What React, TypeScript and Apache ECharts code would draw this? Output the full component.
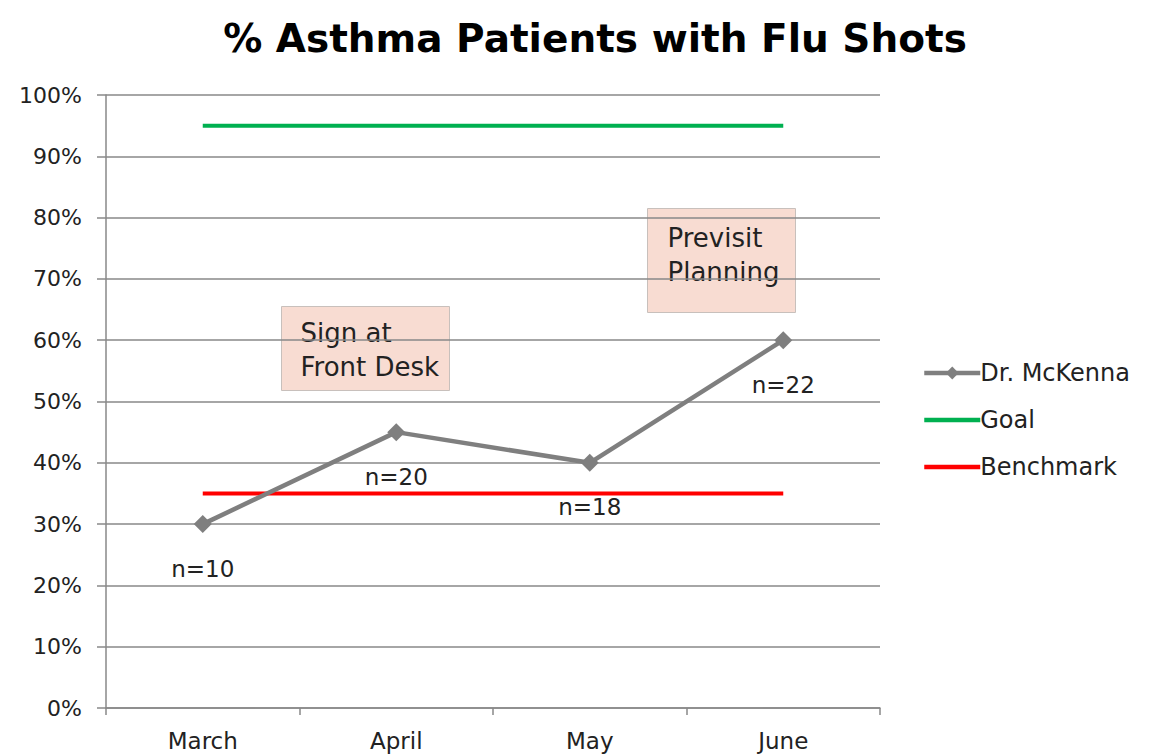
import React, { useEffect, useRef } from "react";
import * as echarts from "echarts";

const categories = ["March", "April", "May", "June"];
const mckenna = [30, 45, 40, 60];
const goal = [95, 95, 95, 95];
const benchmark = [35, 35, 35, 35];
const nLabels = ["n=10", "n=20", "n=18", "n=22"];
const yTicks = [0, 10, 20, 30, 40, 50, 60, 70, 80, 90, 100];

const FONT = "'DejaVu Sans', sans-serif";

export default function App() {
  const ref = useRef<HTMLDivElement>(null);
  useEffect(() => {
    const chart = echarts.init(ref.current!, null, { renderer: "svg" });
    chart.setOption({
      animation: false,
      backgroundColor: "#ffffff",
      title: {
        text: "% Asthma Patients with Flu Shots",
        left: 590,
        textAlign: "center",
        top: 14,
        textStyle: { fontFamily: FONT, fontWeight: "bold", fontSize: 39, color: "#000" },
      },
      grid: { left: 106, right: 273, top: 95, bottom: 48, containLabel: false },
      legend: {
        orient: "vertical",
        left: 922,
        top: 361,
        padding: 0,
        itemWidth: 56,
        itemHeight: 16,
        itemGap: 23,
        lineStyle: { width: 4.5 },
        textStyle: { fontFamily: FONT, fontSize: 24, color: "#222", padding: [0, 0, 0, -5] },
        data: [
          { name: "Dr. McKenna" },
          { name: "Goal", itemStyle: { opacity: 0 } },
          { name: "Benchmark", itemStyle: { opacity: 0 } },
        ],
      },
      xAxis: {
        type: "category",
        data: categories,
        boundaryGap: true,
        axisLine: { lineStyle: { color: "#888", width: 1.5 } },
        axisTick: { show: true, length: 7, lineStyle: { color: "#888", width: 1.5 } },
        axisLabel: { fontFamily: FONT, fontSize: 23, color: "#222", margin: 21 },
      },
      yAxis: {
        type: "value",
        min: 0,
        max: 100,
        interval: 10,
        axisLine: { show: true, lineStyle: { color: "#888", width: 1.5 } },
        axisTick: { show: true, length: 9, lineStyle: { color: "#888", width: 1.5 } },
        splitLine: { lineStyle: { color: "#888", width: 1.5 } },
        axisLabel: {
          fontFamily: FONT,
          fontSize: 22,
          color: "#222",
          margin: 24,
          formatter: (v: number) => (yTicks.includes(v) ? v + "%" : ""),
        },
      },
      series: [
        {
          name: "Dr. McKenna",
          type: "line",
          data: mckenna,
          symbol: "diamond",
          symbolSize: 18,
          lineStyle: { color: "#7f7f7f", width: 4.5 },
          itemStyle: { color: "#7f7f7f" },
          label: {
            show: true,
            position: "bottom",
            distance: 24,
            fontFamily: FONT,
            fontSize: 23,
            color: "#222",
            formatter: (p: any) => nLabels[p.dataIndex],
          },
          z: 5,
        },
        {
          name: "Goal",
          type: "line",
          data: goal,
          symbol: "none",
          lineStyle: { color: "#00b050", width: 4 },
          itemStyle: { color: "#00b050" },
        },
        {
          name: "Benchmark",
          type: "line",
          data: benchmark,
          symbol: "none",
          lineStyle: { color: "#ff0000", width: 4 },
          itemStyle: { color: "#ff0000" },
          z: 3,
        },
      ],
      graphic: [
        {
          type: "group",
          left: 281,
          top: 306,
          children: [
            {
              type: "rect",
              shape: { x: 0, y: 0, width: 168, height: 84 },
              style: { fill: "#f8dcd2", stroke: "#c8c0bc", lineWidth: 1 },
            },
            {
              type: "text",
              x: 19,
              y: 9,
              style: {
                text: "Sign at\nFront Desk",
                fontFamily: FONT,
                fontSize: 26,
                lineHeight: 34,
                fill: "#222",
              },
            },
          ],
        },
        {
          type: "group",
          left: 647,
          top: 208,
          children: [
            {
              type: "rect",
              shape: { x: 0, y: 0, width: 148, height: 104 },
              style: { fill: "#f8dcd2", stroke: "#c8c0bc", lineWidth: 1 },
            },
            {
              type: "text",
              x: 20,
              y: 12,
              style: {
                text: "Previsit\nPlanning",
                fontFamily: FONT,
                fontSize: 26,
                lineHeight: 34,
                fill: "#222",
              },
            },
          ],
        },
      ],
    });
    return () => chart.dispose();
  }, []);
  return <div ref={ref} style={{ width: 1153, height: 756, position: "absolute", left: 0, top: 0 }} />;
}
